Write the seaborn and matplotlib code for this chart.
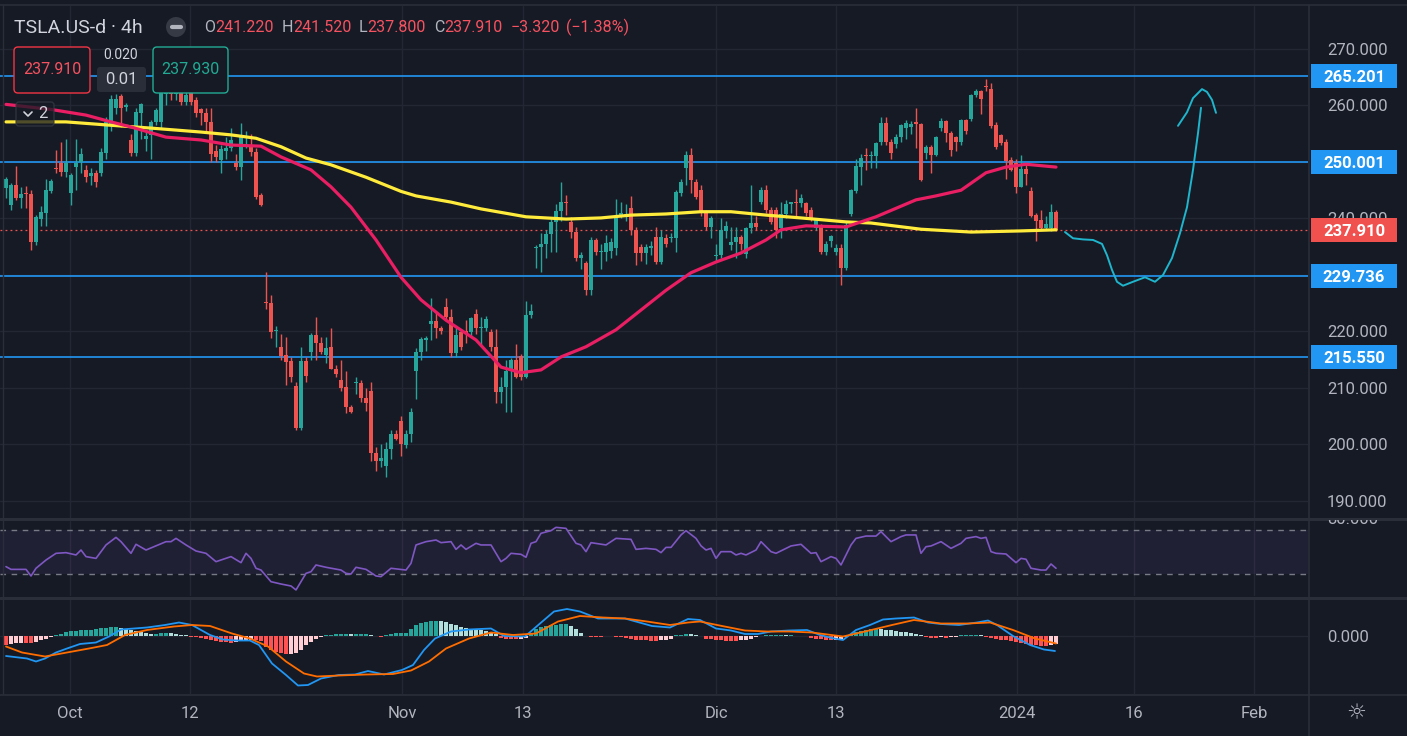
import numpy as np
import pandas as pd
import matplotlib.pyplot as plt
import seaborn as sns
from matplotlib.patches import Rectangle, FancyBboxPatch, Circle
from matplotlib.transforms import blended_transform_factory

# colours
BG = '#161A25'
GRID = '#232733'
TXT = '#B2B5BE'
UP = '#26A69A'
DOWN = '#EF5350'
RED_TXT = '#F7525F'
LEVEL = '#2196F3'

# 4h candles (open, high, low, close), one row per bar
candles = [
    (245.4, 247.3, 243.6, 247.0), (242.4, 246.3, 241.5, 246.0), (246.0, 249.3, 243.3, 243.6), (243.6, 245.5, 241.9, 244.4), (244.6, 245.8, 241.9, 244.3),
    (244.3, 245.0, 234.4, 235.8), (235.8, 240.6, 235.3, 240.3), (239.9, 242.2, 238.6, 241.2), (241.0, 247.0, 238.6, 245.0), (244.9, 247.0, 244.5, 246.6),
    (248.9, 252.1, 248.0, 248.7), (249.8, 253.5, 247.5, 248.2), (248.2, 254.0, 247.3, 249.8), (244.5, 248.0, 242.4, 247.7), (249.1, 254.0, 245.0, 249.8),
    (250.0, 252.5, 248.0, 251.4), (248.6, 249.5, 246.5, 247.3), (247.5, 249.0, 246.0, 248.0), (248.0, 248.5, 245.5, 246.5), (248.0, 252.5, 247.5, 251.8),
    (251.6, 258.0, 250.5, 257.1), (256.5, 261.8, 255.5, 261.2), (259.6, 262.0, 258.5, 261.2), (261.7, 262.0, 256.2, 259.6), (259.8, 260.5, 259.0, 259.9),
    (253.9, 255.0, 251.0, 251.6), (251.6, 259.5, 251.0, 258.8), (258.7, 260.5, 254.0, 260.3), (254.0, 255.5, 252.0, 254.6), (254.8, 257.5, 250.5, 257.1),
    (257.1, 259.5, 256.5, 259.2), (257.1, 263.0, 256.0, 262.2), (262.0, 264.0, 260.0, 262.8), (262.8, 264.5, 261.0, 262.0), (262.0, 264.0, 261.0, 263.0),
    (262.2, 264.0, 260.0, 260.6), (260.6, 262.5, 260.0, 261.8), (262.2, 263.0, 260.0, 260.6), (261.0, 261.5, 258.0, 258.7), (259.4, 259.6, 256.5, 258.7),
    (258.7, 259.5, 255.5, 257.1), (257.1, 259.5, 250.0, 251.4), (252.0, 253.0, 250.0, 250.9), (250.4, 253.0, 248.0, 252.3), (252.0, 254.5, 250.5, 252.5),
    (252.5, 256.0, 252.0, 253.9), (249.8, 251.5, 248.5, 249.1), (249.1, 256.9, 246.8, 254.4), (254.2, 255.5, 252.5, 254.6), (252.6, 255.0, 251.0, 251.8),
    (251.8, 252.5, 243.5, 243.8), (244.2, 244.5, 242.2, 242.4), (225.3, 230.5, 224.0, 225.1), (225.0, 226.5, 218.9, 219.9), (220.1, 221.0, 217.2, 220.3),
    (217.3, 219.5, 215.0, 215.7), (215.8, 219.0, 210.5, 214.6), (214.8, 215.5, 211.0, 212.0), (210.4, 211.0, 202.5, 202.9), (202.9, 217.3, 202.6, 214.8),
    (214.8, 215.5, 211.0, 212.1), (216.4, 219.7, 215.0, 219.4), (219.4, 222.5, 215.0, 218.0), (218.0, 219.0, 216.0, 216.4), (215.8, 219.0, 214.5, 217.1),
    (217.3, 220.6, 213.3, 213.4), (213.4, 214.0, 212.0, 212.5), (211.4, 215.0, 209.5, 210.0), (210.2, 213.0, 205.6, 206.6), (206.6, 207.0, 205.5, 205.7),
    (210.8, 212.0, 209.0, 210.9), (210.9, 211.5, 207.5, 208.2), (208.2, 210.0, 206.0, 207.3), (209.5, 211.0, 197.0, 198.5), (198.5, 199.5, 195.3, 197.1),
    (197.1, 200.0, 196.0, 197.6), (196.2, 200.5, 194.2, 199.2), (199.2, 202.5, 197.5, 201.9), (201.9, 202.5, 200.8, 201.0), (204.2, 205.0, 198.0, 200.1),
    (199.9, 202.5, 199.3, 201.9), (201.9, 206.5, 200.5, 205.7), (213.0, 217.0, 208.0, 216.4), (216.4, 219.0, 215.0, 218.7), (218.5, 219.2, 216.5, 218.8),
    (221.3, 226.0, 218.5, 221.9), (221.9, 223.5, 218.8, 220.6), (220.6, 221.0, 219.5, 220.0), (224.4, 226.0, 221.8, 222.6), (222.6, 224.0, 215.5, 216.2),
    (216.2, 221.0, 215.5, 219.4), (219.9, 220.5, 216.8, 217.3), (219.9, 222.0, 218.0, 219.8), (219.9, 222.5, 219.0, 222.4), (223.1, 224.0, 219.5, 220.6),
    (220.6, 222.5, 217.5, 220.8), (220.6, 222.8, 220.0, 222.2), (219.9, 220.5, 216.5, 217.3), (217.3, 220.5, 207.3, 209.3), (209.3, 212.0, 207.3, 210.2),
    (210.2, 215.0, 205.8, 213.0), (213.0, 215.3, 205.8, 214.9), (214.9, 217.7, 211.7, 212.0), (215.7, 216.0, 211.5, 212.0), (212.0, 225.4, 211.8, 222.9),
    (222.9, 224.9, 222.3, 223.6), (234.7, 235.3, 231.2, 234.9), (234.9, 237.5, 230.5, 235.5), (235.5, 238.0, 233.0, 237.3), (237.3, 240.0, 234.0, 239.4),
    (239.4, 242.5, 234.0, 241.3), (241.3, 246.5, 239.5, 242.9), (243.0, 244.2, 240.7, 242.8), (239.4, 240.3, 236.5, 237.6), (237.6, 238.5, 232.5, 233.0),
    (233.0, 234.0, 231.0, 233.5), (232.1, 232.5, 226.5, 227.3), (227.3, 236.8, 226.5, 236.2), (236.2, 236.5, 233.5, 234.1), (234.0, 235.5, 231.0, 234.2),
    (234.1, 237.0, 232.5, 235.7), (234.2, 236.5, 233.0, 235.8), (234.8, 243.5, 233.5, 240.3), (240.3, 243.0, 240.0, 240.9), (240.4, 242.5, 239.5, 240.8),
    (241.9, 244.0, 237.0, 238.0), (238.0, 238.5, 231.8, 233.9), (235.0, 235.5, 232.5, 233.9), (233.9, 235.5, 232.0, 234.9), (234.8, 236.0, 233.5, 235.1),
    (236.7, 238.5, 232.0, 232.3), (232.3, 238.0, 232.0, 236.7), (236.6, 237.3, 235.0, 235.5), (236.6, 237.5, 235.8, 236.8), (236.5, 245.0, 234.0, 244.7),
    (244.5, 247.0, 244.0, 246.5), (248.9, 252.0, 246.0, 251.2), (251.2, 252.5, 244.5, 246.8), (246.5, 247.0, 243.5, 243.8), (245.0, 246.0, 240.5, 241.0),
    (241.0, 241.5, 238.0, 238.5), (238.5, 240.5, 236.5, 240.1), (233.3, 235.5, 232.5, 233.6), (233.5, 240.0, 233.0, 238.0), (237.8, 239.5, 236.5, 238.7),
    (235.3, 238.5, 234.5, 235.8), (235.8, 238.5, 233.0, 236.7), (236.7, 237.0, 234.5, 235.4), (233.7, 238.5, 233.0, 238.3), (238.3, 246.0, 237.5, 239.2),
    (239.2, 240.5, 238.0, 238.5), (242.9, 245.6, 242.5, 245.0), (245.0, 246.0, 241.0, 241.5), (241.5, 242.0, 239.0, 239.4), (241.5, 242.0, 236.5, 238.0),
    (238.3, 243.0, 236.5, 240.8), (240.8, 243.2, 240.0, 242.6), (242.6, 243.0, 241.0, 242.9), (243.0, 245.3, 240.0, 242.8), (242.7, 244.3, 242.0, 243.6),
    (242.7, 243.0, 240.5, 241.0), (241.5, 242.0, 239.5, 239.8), (238.3, 240.0, 238.0, 239.7), (238.5, 239.0, 233.8, 234.1), (234.1, 236.0, 233.5, 235.5),
    (236.0, 237.0, 235.0, 236.9), (234.1, 235.5, 233.5, 234.8), (234.8, 235.5, 228.2, 231.2), (231.2, 239.5, 230.8, 238.8), (240.8, 245.3, 240.5, 245.0),
    (244.9, 250.5, 244.5, 249.3), (249.1, 251.5, 246.0, 250.7), (251.2, 252.5, 248.5, 251.0), (251.0, 252.0, 249.0, 251.3), (251.1, 253.6, 249.0, 253.4),
    (253.5, 258.0, 253.0, 256.9), (256.9, 258.0, 253.0, 253.5), (253.5, 254.0, 250.5, 251.6), (253.2, 255.0, 252.5, 254.4), (254.4, 256.8, 253.5, 256.5),
    (256.0, 257.5, 254.0, 256.9), (256.2, 257.3, 255.0, 256.8), (257.0, 259.5, 252.5, 256.8), (256.7, 256.9, 246.6, 246.8), (251.6, 253.0, 250.5, 252.7),
    (252.7, 253.0, 248.0, 251.3), (251.2, 254.6, 251.0, 254.4), (256.0, 257.8, 255.5, 257.3), (257.3, 257.5, 253.5, 255.1), (255.1, 255.5, 251.0, 252.1),
    (254.4, 254.6, 252.0, 253.5), (253.5, 257.6, 253.0, 257.4), (257.4, 257.6, 255.0, 255.4), (257.6, 262.0, 257.2, 261.9), (261.9, 263.0, 261.5, 262.6),
    (262.6, 262.7, 258.5, 261.2), (263.4, 264.7, 262.5, 263.2), (262.9, 264.0, 256.0, 256.4), (256.5, 257.0, 252.3, 252.7), (254.8, 255.0, 253.0, 253.4),
    (253.5, 254.0, 247.0, 250.2), (250.4, 250.8, 248.4, 248.6), (249.8, 250.5, 244.5, 245.6), (245.6, 251.2, 245.5, 248.8), (248.8, 249.8, 246.0, 247.9),
    (244.9, 245.5, 240.2, 240.4), (240.6, 241.0, 236.0, 239.6), (239.7, 241.5, 238.0, 238.3), (238.3, 240.5, 238.0, 239.0), (238.3, 242.6, 237.8, 241.2),
    (241.22, 241.52, 237.80, 237.91),
]

# moving averages, (bar index, price)
ma_fast = [(0, 260.2), (9, 259.3), (16, 258.3), (21, 257.1), (25, 256.2), (32, 254.4), (39, 253.9), (45, 253.0), (51, 252.8),
           (55, 250.9), (61, 248.6), (65, 245.6), (69, 242.0), (74, 236.2), (79, 229.6), (83, 225.6), (88, 222.0), (94, 218.5),
           (99, 213.7), (103, 212.7), (107, 213.2), (111, 215.5), (116, 217.3), (122, 220.3), (127, 223.8), (132, 227.3),
           (137, 230.4), (142, 232.3), (147, 233.9), (152, 236.2), (155, 238.0), (160, 238.7), (168, 238.5), (174, 240.3),
           (182, 243.3), (186, 244.0), (191, 245.0), (196, 248.1), (200, 249.1), (204, 249.6), (210, 249.1)]
ma_slow = [(0, 257.1), (12, 257.1), (21, 256.5), (29, 256.0), (39, 255.3), (45, 254.8), (50, 254.2), (55, 252.7), (60, 250.7),
           (65, 249.5), (72, 247.3), (79, 244.8), (82, 244.0), (89, 242.9), (95, 241.7), (104, 240.3), (112, 239.9), (119, 240.1),
           (125, 240.6), (132, 240.8), (139, 241.2), (145, 241.2), (152, 240.6), (159, 240.1), (168, 239.4), (173, 239.2),
           (183, 238.1), (193, 237.6), (203, 237.8), (210, 238.0)]

# horizontal levels and current price
levels = [265.201, 250.001, 229.736, 215.550]
last_price = 237.910

# hand drawn projection (bar index, price)
proj_path = [(211.8, 237.6), (213.4, 236.5), (215.4, 236.3), (217.4, 236.2), (219.2, 235.5), (220.2, 233.5), (221.2, 230.9),
             (222.2, 228.8), (223.4, 228.1), (225.4, 228.8), (227.8, 229.6), (229.8, 228.8), (231.4, 230.0), (233.2, 233.0),
             (234.8, 237.4), (236.2, 242.0), (237.4, 248.6), (238.4, 255.1), (239.0, 259.6)]
proj_cap = [(234.4, 256.4), (236.2, 258.8), (237.4, 261.3), (239.2, 262.9), (240.2, 262.4), (241.2, 261.0), (242.0, 258.7)]

# RSI (bar index, value)
rsi = [(0, 36.7), (1, 34.2), (4, 34.2), (5, 28.2), (6, 35.2), (8, 42.7), (10, 48.8), (12, 49.4), (14, 47.3), (15, 51.8),
       (16, 45.8), (18, 44.2), (20, 56.4), (22, 63.3), (23, 59.4), (25, 48.8), (26, 57.0), (28, 51.8), (32, 59.4), (33, 59.4),
       (34, 62.4), (36, 56.4), (38, 50.9), (40, 48.8), (42, 41.2), (43, 42.7), (45, 45.8), (47, 40.3), (48, 48.8), (49, 44.2),
       (50, 35.2), (51, 33.6), (53, 23.0), (55, 20.9), (57, 19.1), (58, 15.5), (60, 30.6), (61, 32.1), (62, 38.2), (64, 36.1),
       (67, 33.6), (68, 30.6), (69, 30.0), (70, 36.1), (72, 34.2), (74, 28.2), (75, 27.6), (77, 35.2), (80, 33.6), (81, 39.7),
       (82, 56.4), (84, 59.4), (86, 60.9), (87, 58.5), (89, 59.4), (90, 52.4), (91, 56.4), (92, 52.4), (94, 57.9), (95, 56.4),
       (97, 56.4), (99, 41.2), (100, 44.2), (101, 48.8), (103, 47.9), (104, 45.2), (105, 57.9), (106, 59.4), (107, 67.0),
       (109, 69.4), (110, 72.4), (112, 71.5), (114, 57.9), (115, 56.4), (116, 50.3), (117, 58.5), (120, 56.4), (122, 62.4),
       (125, 61.5), (126, 52.4), (128, 53.3), (130, 52.4), (131, 49.4), (132, 54.2), (133, 54.2), (135, 65.5), (136, 69.4),
       (138, 62.4), (139, 55.6), (140, 51.8), (141, 53.3), (142, 44.2), (143, 50.3), (145, 50.3), (146, 47.3), (147, 48.8),
       (148, 47.3), (150, 51.8), (151, 59.4), (153, 50.3), (154, 48.8), (157, 55.5), (159, 57.0), (161, 48.8), (162, 49.4),
       (163, 41.2), (165, 45.8), (166, 44.2), (167, 38.2), (169, 56.4), (170, 62.4), (172, 64.5), (174, 64.5), (175, 68.5),
       (177, 59.4), (179, 64.0), (180, 65.5), (182, 65.5), (183, 48.8), (184, 54.8), (185, 55.5), (187, 59.4), (189, 53.3),
       (191, 57.9), (192, 62.4), (194, 64.0), (195, 62.4), (196, 63.3), (197, 50.3), (198, 48.8), (200, 48.2), (201, 44.2),
       (202, 40.3), (203, 44.2), (204, 43.4), (205, 35.2), (207, 33.6), (208, 33.6), (209, 39.1), (210, 35.2)]

# MACD line and signal (bar index, value)
macd_line = [(0, -4.0), (4.2, -4.5), (6, -5.1), (7.8, -4.5), (10, -3.3), (12.2, -2.5), (14.8, -1.6), (18, -1.3), (20.6, -0.1),
             (23, 1.3), (25.6, 1.5), (28.2, 1.7), (31.8, 2.2), (34.6, 2.7), (37.2, 2.2), (40.8, 0.2), (43.4, -0.7), (46.2, -0.9),
             (48.8, -0.9), (50.6, -1.8), (53.2, -5.5), (56, -7.8), (58.4, -9.9), (60.4, -9.8), (63, -8.5), (66.6, -7.8),
             (69.8, -7.7), (72.4, -7.0), (75.6, -7.7), (79.2, -6.8), (81.4, -5.8), (83.6, -2.8), (85.8, -0.5), (89, 0.9),
             (92.6, 1.3), (97, 1.5), (99.6, 0.0), (103.8, -0.1), (106.8, 2.5), (109.6, 4.9), (112.2, 5.4), (114.8, 4.9),
             (118.4, 3.5), (123.8, 3.5), (129.2, 2.0), (132.8, 1.7), (136.4, 3.4), (138.8, 3.2), (142, 1.5), (145, 1.1),
             (147.8, 0.4), (150.4, 0.4), (153, 0.9), (156.6, 1.1), (160.2, 1.2), (162.8, 0.2), (165.6, -0.5), (167.4, -0.8),
             (170, 1.2), (172.8, 2.2), (175.4, 3.3), (178, 3.5), (181.6, 3.7), (184.4, 2.7), (187, 2.4), (190.6, 2.2),
             (194.2, 2.7), (196.4, 3.1), (198.2, 2.2), (201.4, 0.0), (204.8, -1.8), (207.6, -2.7), (209.8, -3.0)]
macd_signal = [(0, -2.1), (3.2, -3.3), (7.8, -4.1), (12.2, -3.3), (16.6, -2.5), (20.2, -1.8), (23.8, 0.2), (28.2, 1.2),
               (33.6, 1.9), (37.2, 2.2), (40.8, 2.0), (45.2, 0.5), (48.8, -0.5), (52.4, -2.1), (56, -5.1), (59.6, -7.5),
               (62.2, -8.1), (66.6, -7.9), (72, -7.7), (77.4, -7.6), (81, -6.9), (84.6, -5.1), (88, -2.5), (92.6, -0.5),
               (97, 0.7), (101.4, 0.2), (106, 0.5), (110.4, 2.9), (114.8, 4.0), (119.4, 3.7), (123.8, 3.5), (128.2, 2.9),
               (132.8, 2.2), (136.4, 2.7), (138.8, 2.9), (143.2, 2.0), (147.8, 1.1), (152.2, 0.9), (156.6, 0.9), (161.2, 0.7),
               (167.4, -0.1), (171.8, 0.9), (177.2, 2.2), (181.6, 3.2), (187, 2.5), (192.4, 2.5), (196.8, 2.7), (201.4, 1.2),
               (205.8, -0.5), (210, -1.5)]

# MACD histogram, one value per bar
hist = [-1.7, -1.5, -1.4, -1.3, -1.3, -1.4, -1.1, -0.8, -0.5, -0.2,
        0.2, 0.5, 0.9, 1.1, 1.1, 1.2, 1.2, 1.3, 1.5, 1.6,
        1.7, 1.8, 1.9, 1.7, 1.5, 1.3, 1.1, 0.9, 0.7, 0.5,
        0.5, 0.6, 0.7, 0.6, 0.4, 0.3, 0.2, -0.1, -0.2, -0.3,
        -0.5, -0.7, -0.9, -1.1, -1.2, -1.3, -1.2, -1.0, -0.9, -0.8,
        -0.8, -0.9, -2.1, -2.7, -3.1, -3.4, -3.6, -3.5, -3.3, -2.8,
        -1.8, -1.2, -0.5, -0.2, 0.2, 0.3, 0.4, 0.4, 0.5, 0.4,
        0.5, 0.5, 0.5, 0.3, 0.0, -0.1, 0.2, 0.5, 0.6, 0.7,
        0.7, 1.4, 2.2, 2.6, 2.9, 3.0, 3.1, 3.0, 2.8, 2.5,
        2.2, 1.9, 1.7, 1.5, 1.4, 1.3, 1.0, 0.7, 0.4, -0.3,
        -0.5, -0.6, -0.6, -0.5, -0.3, 0.6, 1.5, 1.8, 2.0, 2.2,
        2.3, 2.4, 2.5, 2.1, 1.5, 0.7, 0.1, -0.1, -0.1, -0.1,
        0.1, 0.1, -0.1, -0.1, -0.3, -0.5, -0.7, -0.8, -0.8, -0.9,
        -0.9, -0.8, -0.7, -0.6, 0.2, 0.3, 0.5, 0.4, 0.3, 0.1,
        -0.5, -0.6, -0.8, -0.8, -0.9, -0.9, -0.9, -0.8, -0.7, -0.5,
        -0.2, 0.1, 0.2, 0.2, 0.3, 0.3, 0.2, 0.2, 0.1, 0.1,
        0.1, -0.3, -0.5, -0.6, -0.7, -0.8, -0.7, -0.5, -0.2, 0.3,
        0.8, 1.1, 1.3, 1.4, 1.5, 1.4, 1.3, 1.2, 1.1, 0.9,
        0.8, 0.7, 0.5, 0.3, -0.2, -0.3, -0.3, -0.2, -0.3, -0.2,
        -0.1, 0.2, 0.3, 0.3, 0.3, 0.2, -0.1, -0.3, -0.5, -0.7,
        -0.8, -0.9, -1.1, -1.3, -1.5, -1.7, -1.8, -1.9, -2.0, -1.8, -1.5]

# time axis labels (bar index positions)
tick_pos = [12.8, 36.8, 79.2, 103.4, 142.0, 166.0, 202.2, 225.6, 249.6]
tick_lbl = ['Oct', '12', 'Nov', '13', 'Dic', '13', '2024', '16', 'Feb']
price_grid = [190, 200, 210, 220, 230, 240, 250, 260, 270]
# 230 and 250 sit under the level tags, so they carry no label
price_lbl = ['190.000', '200.000', '210.000', '220.000', '', '240.000', '', '260.000', '270.000']

sns.set_theme(style='dark', rc={'axes.facecolor': BG, 'figure.facecolor': BG})
plt.rcParams['font.family'] = ['Roboto', 'DejaVu Sans']

W, H = 1407, 736
fig = plt.figure(figsize=(W / 100, H / 100), dpi=100)


def rect(x0, y0, x1, y1):
    return [x0 / W, 1 - y1 / H, (x1 - x0) / W, (y1 - y0) / H]


ax = fig.add_axes(rect(0, 6, 1308, 518))
ax_rsi = fig.add_axes(rect(0, 521, 1308, 596))
ax_macd = fig.add_axes(rect(0, 599, 1308, 694))
XLIM = (-1.2, 260.4)

for a in (ax, ax_rsi, ax_macd):
    a.set_facecolor(BG)
    for s in a.spines.values():
        s.set_visible(False)
    a.set_xticks(tick_pos)
    a.grid(True, axis='x', color=GRID, lw=1)
    a.tick_params(length=0)
    a.set_axisbelow(True)

# ---- main pane
df = pd.DataFrame(candles, columns=['o', 'h', 'l', 'c'])
df['i'] = np.arange(len(df))
up = df.c >= df.o
for mask, col in ((up, UP), (~up, DOWN)):
    d = df[mask]
    ax.vlines(d.i, d.l, d.h, color=col, lw=1, zorder=3)
    body = (d.c - d.o).abs().clip(lower=0.2)
    ax.bar(d.i, body, bottom=np.minimum(d.o, d.c), width=0.8, color=col, lw=0, zorder=3)

for p in levels:
    ax.axhline(p, color=LEVEL, lw=1.2, zorder=2)
ax.axhline(last_price, color=DOWN, lw=0.9, ls=(0, (1.5, 2.5)), zorder=2)

slow = pd.DataFrame(ma_slow, columns=['i', 'v'])
fast = pd.DataFrame(ma_fast, columns=['i', 'v'])
sns.lineplot(data=slow, x='i', y='v', ax=ax, color='#FFEB3B', linewidth=2.3, zorder=4)
sns.lineplot(data=fast, x='i', y='v', ax=ax, color='#E91E63', linewidth=2.3, zorder=4)

for path in (proj_path, proj_cap):
    pp = pd.DataFrame(path, columns=['i', 'v'])
    sns.lineplot(data=pp, x='i', y='v', ax=ax, sort=False, color='#1FB5CC', linewidth=1.4, zorder=4)

ax.set_ylim(186.99, 277.61)
ax.set_yticks(price_grid)
ax.set_yticklabels(price_lbl)
ax.yaxis.tick_right()
ax.tick_params(axis='y', colors=TXT, labelsize=12, pad=13.5)
ax.tick_params(axis='x', labelbottom=False)
ax.grid(True, axis='y', color=GRID, lw=1)
ax.set_xlabel('')
ax.set_ylabel('')

tr = blended_transform_factory(ax.transAxes, ax.transData)
for p, col in [(v, LEVEL) for v in levels] + [(last_price, '#F0514F')]:
    ax.add_patch(Rectangle((1 + 3 / 1308, p - 2.12), 86 / 1308, 4.25, transform=tr,
                           fc=col, ec='none', clip_on=False, zorder=10))
    ax.text(1 + 46 / 1308, p, f'{p:.3f}', transform=tr, ha='center', va='center_baseline',
            color='white', fontsize=12, fontweight='bold', clip_on=False, zorder=11)

# ---- RSI pane
r = pd.DataFrame(rsi, columns=['i', 'v'])
ax_rsi.axhspan(30, 70, color='#7E57C2', alpha=0.1, lw=0)
ax_rsi.axhline(70, color='#787B86', lw=1, ls=(0, (4, 4)))
ax_rsi.axhline(30, color='#787B86', lw=1, ls=(0, (4, 4)))
sns.lineplot(data=r, x='i', y='v', ax=ax_rsi, color='#7E57C2', linewidth=1.2)
ax_rsi.set_ylim(10, 78.18)
ax_rsi.set_yticks([])
ax_rsi.tick_params(axis='x', labelbottom=False)
ax_rsi.set_xlabel('')
ax_rsi.set_ylabel('')

# ---- MACD pane
hv = np.array(hist)
hcol = []
for k, h in enumerate(hv):
    prev = hv[k - 1] if k > 0 else h
    if h >= 0:
        hcol.append(UP if h >= prev else '#B2DFDB')
    else:
        hcol.append('#FF5252' if h <= prev else '#FFCDD2')
ax_macd.bar(np.arange(len(hv)), hv, width=0.8, color=hcol, lw=0, zorder=2)
ml = pd.DataFrame(macd_line, columns=['i', 'v'])
sg = pd.DataFrame(macd_signal, columns=['i', 'v'])
sns.lineplot(data=ml, x='i', y='v', ax=ax_macd, color='#2196F3', linewidth=1.3, zorder=3)
sns.lineplot(data=sg, x='i', y='v', ax=ax_macd, color='#FF6D00', linewidth=1.3, zorder=3)
ax_macd.set_ylim(-11.6, 7.4)
ax_macd.yaxis.tick_right()
ax_macd.set_yticks([0])
ax_macd.set_yticklabels(['0.000'])
ax_macd.grid(True, axis='y', color=GRID, lw=1)
ax_macd.set_xticklabels(tick_lbl)
ax_macd.tick_params(axis='y', colors=TXT, labelsize=12, pad=13.5)
ax_macd.tick_params(axis='x', colors=TXT, labelsize=12, pad=9)
ax_macd.set_xlabel('')
ax_macd.set_ylabel('')

for a in (ax, ax_rsi, ax_macd):
    a.set_xlim(*XLIM)

# ---- overlay in pixel units: panel borders and header widgets
ov = fig.add_axes([0, 0, 1, 1])
ov.patch.set_visible(False)
ov.axis('off')
BORDER = '#2A2E39'
ov.plot([0, W], [519.0, 519.0], color=BORDER, lw=2.2)
ov.plot([0, W], [597.5, 597.5], color=BORDER, lw=2.2)
ov.plot([0, W], [694.5, 694.5], color=BORDER, lw=1.2)
ov.plot([0, W], [5, 5], color=BORDER, lw=1.2)
ov.plot([1308.5, 1308.5], [5, H], color=BORDER, lw=1.2)
ov.plot([3, 3], [5, 694], color=BORDER, lw=1)

# RSI scale label, only its lower part shows under the pane border
t80 = ov.text(1327, 519.5, '80.000', color=TXT, fontsize=12, va='center', clip_on=True)
t80.set_clip_path(Rectangle((1309, 520), 98, 76, transform=ov.transData))

ov.text(1356, 713, '\u263c', color=TXT, fontsize=16, ha='center', va='center', family='DejaVu Sans')

ov.text(14, 28, 'TSLA.US-d \u00b7 4h', color='#D1D4DC', fontsize=14, va='center')
ov.add_patch(Circle((176, 27), 10, fc='#363A45', ec='none'))
ov.plot([171.5, 180.5], [27, 27], color='#B2B5BE', lw=3, solid_capstyle='round')

t = ov.text(204, 28, 'O', color=TXT, fontsize=11.5, va='center')
parts = [('241.220', RED_TXT, 0), ('H', TXT, 8), ('241.520', RED_TXT, 0), ('L', TXT, 8), ('237.800', RED_TXT, 0),
         ('C', TXT, 8), ('237.910', RED_TXT, 0), ('\u22123.320', RED_TXT, 8), ('(\u22121.38%)', RED_TXT, 6)]
for s, c, gap in parts:
    t = ov.annotate(s, xy=(1, 0), xycoords=t, xytext=(gap, 0), textcoords='offset pixels',
                    color=c, fontsize=11.5, va='bottom', ha='left')

ov.add_patch(FancyBboxPatch((14, 47), 76, 46, boxstyle='round,pad=0,rounding_size=4',
                            fc=BG, ec='#F23645', lw=1))
ov.text(52, 70, '237.910', color=RED_TXT, fontsize=11.5, ha='center', va='center')
ov.text(121, 55, '0.020', color='#D1D4DC', fontsize=10, ha='center', va='center')
ov.add_patch(FancyBboxPatch((97, 67), 49, 25, boxstyle='round,pad=0,rounding_size=3',
                            fc='#2A2E39', ec='none'))
ov.text(121, 80, '0.01', color='#D1D4DC', fontsize=12, ha='center', va='center')
ov.add_patch(FancyBboxPatch((153, 47), 75, 46, boxstyle='round,pad=0,rounding_size=4',
                            fc=BG, ec='#22AB94', lw=1))
ov.text(190, 70, '237.930', color='#22AB94', fontsize=11.5, ha='center', va='center')

ov.add_patch(FancyBboxPatch((16, 102), 38, 24, boxstyle='round,pad=0,rounding_size=3',
                            fc=BG, ec='#363A45', lw=1, alpha=0.75))
ov.plot([24, 28, 32], [112, 116, 112], color='#D1D4DC', lw=1.2)
ov.text(43, 114, '2', color='#D1D4DC', fontsize=12, ha='center', va='center')

ov.set_xlim(0, W)
ov.set_ylim(H, 0)

fig.savefig('out.png', dpi=100, facecolor=BG)
